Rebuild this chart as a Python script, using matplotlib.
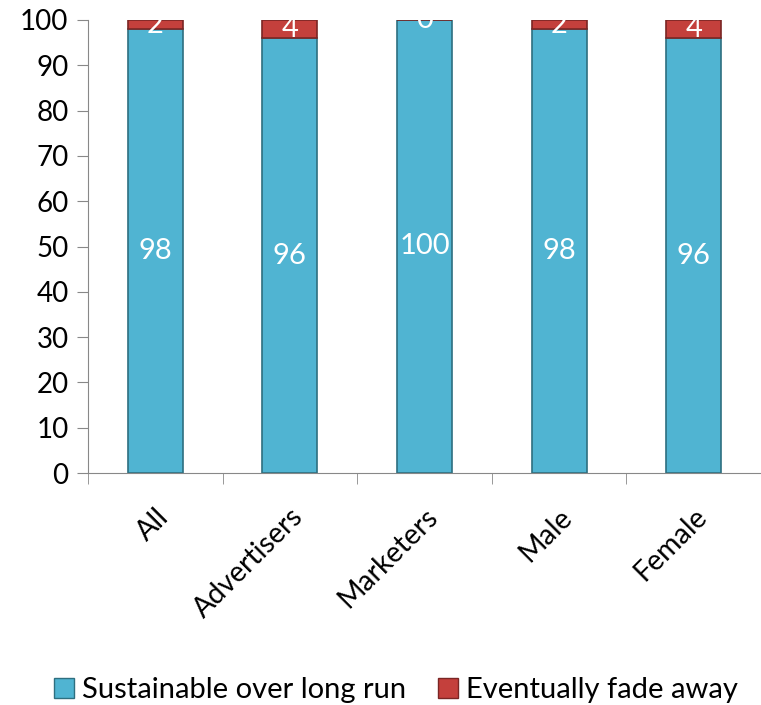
import numpy as np
import matplotlib.pyplot as plt
from matplotlib.patches import Patch

# datos de la encuesta (%)
grupos = ['All', 'Advertisers', 'Marketers', 'Male', 'Female']
sostenible = [98, 96, 100, 98, 96]
desaparece = [2, 4, 0, 2, 4]

azul = '#50B4D2'
rojo = '#C4403C'

plt.rcParams['font.family'] = ['Lato', 'DejaVu Sans']

fig = plt.figure(figsize=(7.61, 7.05), dpi=100)
ax = fig.add_axes([88/761, 1 - 473/705, (761 - 88)/761, (473 - 20)/705])

x = np.arange(len(grupos))
ancho = 0.41
b1 = ax.bar(x, sostenible, ancho, color=azul, edgecolor='#2E6F80', linewidth=1.2, zorder=2)
b2 = ax.bar(x, desaparece, ancho, bottom=sostenible, color=rojo, edgecolor='#7A2624',
            linewidth=1.2, zorder=2)

# etiquetas de valor dentro de cada segmento
for i in range(len(grupos)):
    ax.text(x[i], sostenible[i] / 2, str(sostenible[i]), ha='center', va='center',
            color='white', fontsize=21, zorder=3)
    ax.text(x[i], sostenible[i] + desaparece[i] / 2, str(desaparece[i]), ha='center',
            va='center', color='white', fontsize=21, zorder=3)

ax.set_ylim(0, 100)
ax.set_xlim(-0.5, 4.5 - 7/136)
ax.set_yticks(np.arange(0, 101, 10))
ax.tick_params(axis='y', labelsize=20, length=8, color='#888888', pad=6)
ax.set_xticks(x)
ax.set_xticklabels(grupos, rotation=45, ha='right', rotation_mode='anchor', fontsize=20.5)
ax.tick_params(axis='x', length=0, pad=22)
ax.set_xticks(np.arange(-0.5, 5, 1), minor=True)
ax.tick_params(axis='x', which='minor', length=8, color='#888888')

for s in ['top', 'right']:
    ax.spines[s].set_visible(False)
ax.spines['left'].set_color('#888888')
ax.spines['bottom'].set_color('#888888')

handles = [Patch(facecolor=azul, edgecolor='#2E6F80', label='Sustainable over long run'),
           Patch(facecolor=rojo, edgecolor='#7A2624', label='Eventually fade away')]
fig.legend(handles=handles, loc='center', bbox_to_anchor=(0.52, 1 - 690/705), ncol=2,
           frameon=False, fontsize=21, handlelength=0.7, handleheight=0.7,
           handletextpad=0.25, columnspacing=1.1)

fig.savefig('out.png', dpi=100)
